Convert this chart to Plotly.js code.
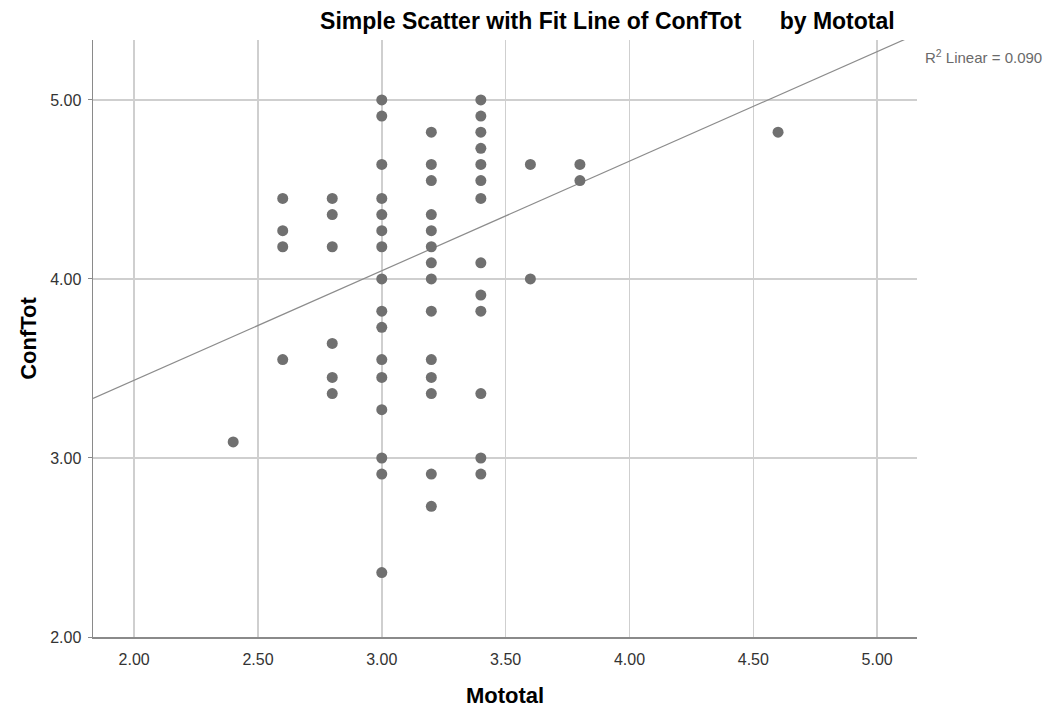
<!DOCTYPE html>
<html>
<head>
<meta charset="utf-8">
<script src="https://cdn.plot.ly/plotly-3.0.1.min.js"></script>
<style>html,body{margin:0;padding:0;background:#fff;}#chart{width:1049px;height:708px;}</style>
</head>
<body>
<div id="chart"></div>
<script>
// Data
const mototal = [
  2.4,
  2.6, 2.6, 2.6, 2.6,
  2.8, 2.8, 2.8, 2.8, 2.8, 2.8,
  3.0, 3.0, 3.0, 3.0, 3.0, 3.0, 3.0, 3.0, 3.0, 3.0, 3.0, 3.0, 3.0, 3.0, 3.0, 3.0,
  3.2, 3.2, 3.2, 3.2, 3.2, 3.2, 3.2, 3.2, 3.2, 3.2, 3.2, 3.2, 3.2, 3.2,
  3.4, 3.4, 3.4, 3.4, 3.4, 3.4, 3.4, 3.4, 3.4, 3.4, 3.4, 3.4, 3.4,
  3.6, 3.6,
  3.8, 3.8,
  4.6
];
const confTot = [
  3.09,
  4.45, 4.27, 4.18, 3.55,
  4.45, 4.36, 4.18, 3.64, 3.45, 3.36,
  5.00, 4.91, 4.64, 4.45, 4.36, 4.27, 4.18, 4.00, 3.82, 3.73, 3.55, 3.45, 3.27, 3.00, 2.91, 2.36,
  4.82, 4.64, 4.55, 4.36, 4.27, 4.18, 4.09, 4.00, 3.82, 3.55, 3.45, 3.36, 2.91, 2.73,
  5.00, 4.91, 4.82, 4.73, 4.64, 4.55, 4.45, 4.09, 3.91, 3.82, 3.36, 3.00, 2.91,
  4.64, 4.00,
  4.64, 4.55,
  4.82
];
const fitIntercept = 2.21;
const fitSlope = 0.612;
const r2Label = 'R<sup>2</sup> Linear = 0.090';
const xTicks = [2.0, 2.5, 3.0, 3.5, 4.0, 4.5, 5.0];
const xTickText = ['2.00', '2.50', '3.00', '3.50', '4.00', '4.50', '5.00'];
const yTicks = [2.0, 3.0, 4.0, 5.0];
const yTickText = ['2.00', '3.00', '4.00', '5.00'];
const xRange = [1.834, 5.161];
const yRange = [2.0, 5.335];

const fitX = [xRange[0], xRange[1]];
const fitY = fitX.map(x => fitIntercept + fitSlope * x);

const font = 'Liberation Sans, Arial, sans-serif';
const nb = '\u00A0';

const traces = [
  {
    x: fitX, y: fitY, mode: 'lines', type: 'scatter',
    line: {color: '#8c8c8c', width: 1.2},
    hoverinfo: 'skip', showlegend: false
  },
  {
    x: mototal, y: confTot, mode: 'markers', type: 'scatter',
    marker: {color: '#707070', size: 11, line: {width: 0}},
    showlegend: false, cliponaxis: true
  }
];

const layout = {
  width: 1049, height: 708,
  margin: {l: 93, r: 132, t: 40, b: 71},
  paper_bgcolor: '#ffffff', plot_bgcolor: '#ffffff',
  font: {family: font, color: '#333333', size: 12},
  title: {
    text: '<b>Simple Scatter with Fit Line of ConfTot' + nb.repeat(6) + 'by Mototal</b>',
    font: {family: font, size: 23, color: '#000000'},
    xref: 'container', x: 0.579, xanchor: 'center',
    yref: 'container', y: 0.971, yanchor: 'middle'
  },
  xaxis: {
    range: xRange, tickvals: xTicks, ticktext: xTickText,
    showgrid: true, gridcolor: '#cfcfcf', gridwidth: 1.5,
    zeroline: false, showline: true, linecolor: '#8a8a8a', linewidth: 1.5,
    ticks: 'outside', ticklen: 7, tickcolor: 'rgba(0,0,0,0)',
    tickfont: {family: font, size: 16, color: '#333333'},
    title: {text: '<b>Mototal</b>', font: {family: font, size: 22, color: '#000000'}, standoff: 21}
  },
  yaxis: {
    range: yRange, tickvals: yTicks, ticktext: yTickText,
    showgrid: true, gridcolor: '#cfcfcf', gridwidth: 1.5,
    zeroline: false, showline: true, linecolor: '#8a8a8a', linewidth: 1.5,
    ticks: 'outside', ticklen: 4, tickcolor: '#8a8a8a',
    ticklabelstandoff: 3,
    tickfont: {family: font, size: 16, color: '#333333'},
    title: {text: '<b>ConfTot</b>', font: {family: font, size: 22, color: '#000000'}, standoff: 7}
  },
  annotations: [
    {
      text: r2Label, xref: 'paper', yref: 'paper', x: 1.007, y: 0.973,
      xanchor: 'left', yanchor: 'middle', showarrow: false,
      font: {family: font, size: 15, color: '#6a6a6a'}
    }
  ]
};

Plotly.newPlot('chart', traces, layout, {displayModeBar: false, staticPlot: true});
</script>
</body>
</html>
